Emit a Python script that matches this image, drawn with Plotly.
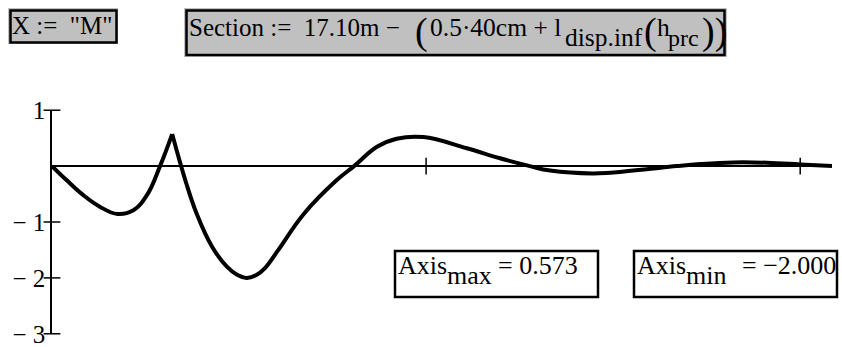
import plotly.graph_objects as go

# ---------------- data ----------------
seg1_x = [0.0, 0.31, 0.67, 1.03, 1.40, 1.74, 2.03, 2.31, 2.57]
seg1_y = [0.0, -0.25, -0.52, -0.73, -0.857, -0.79, -0.52, 0.0, 0.573]

seg2_x = [2.57, 2.85, 3.09, 3.42, 3.74, 3.95, 4.16, 4.37, 4.56, 4.84, 5.38, 6.09, 6.46,
          6.95, 7.37, 7.94, 8.87, 9.58, 10.22, 10.65, 11.58, 12.43, 13.36,
          13.86, 14.57, 15.29, 16.0, 16.68]
seg2_y = [0.573, -0.25, -0.845, -1.44, -1.80, -1.94, -2.0, -1.95, -1.82, -1.50, -0.86, -0.25, 0.0,
          0.345, 0.49, 0.52, 0.32, 0.14, 0.0, -0.08, -0.13, -0.08, 0.0,
          0.036, 0.066, 0.06, 0.03, 0.0]

x_range = [0.0, 16.68]
y_range = [-3.0, 1.0]
x_ticks = [8, 16]
y_ticks = [1, -1, -2, -3]
y_tick_labels = ["1", "\u2212 1", "\u2212 2", "\u2212 3"]

axis_max = 0.573
axis_min = -2.000

# ---------------- layout geometry (page pixels) ----------------
W, H = 842, 347
L, R, T, B = 52, 832, 110, 334
FONT = "Liberation Serif"
EPS = 0.004        # tiny range padding so the end tick labels are kept


def px(x):
    return (x - L) / (R - L)


def py(y):
    return (B - y) / (B - T)


fig = go.Figure()

line_style = dict(color="black", width=4, shape="spline", smoothing=1.15)
fig.add_trace(go.Scatter(x=seg1_x, y=seg1_y, mode="lines", line=line_style,
                         hoverinfo="skip", showlegend=False))
fig.add_trace(go.Scatter(x=seg2_x, y=seg2_y, mode="lines", line=line_style,
                         hoverinfo="skip", showlegend=False))

# tick marks crossing the axes
fig.add_trace(go.Scatter(x=[0] * len(y_ticks), y=y_ticks, mode="markers",
                         marker=dict(symbol="line-ew", size=12,
                                     line=dict(color="black", width=1.5)),
                         cliponaxis=False, hoverinfo="skip", showlegend=False))
fig.add_trace(go.Scatter(x=x_ticks, y=[0] * len(x_ticks), mode="markers",
                         marker=dict(symbol="line-ns", size=12,
                                     line=dict(color="black", width=1.5)),
                         cliponaxis=False, hoverinfo="skip", showlegend=False))

shapes = []


def box(x0, y0, x1, y1, fill=None, lw=2.5):
    if fill:
        shapes.append(dict(type="rect", xref="paper", yref="paper",
                           x0=px(x0), x1=px(x1), y0=py(y1), y1=py(y0),
                           fillcolor=fill, line=dict(width=0), layer="below"))
    else:
        shapes.append(dict(type="rect", xref="paper", yref="paper",
                           x0=px(x0), x1=px(x1), y0=py(y1), y1=py(y0),
                           line=dict(color="black", width=lw), layer="above"))


# gray backgrounds and borders of the definitions
box(8, 8, 118, 44, fill="#c0c0c0")
box(10.5, 10.5, 116.5, 42.5)
box(184, 8, 727, 57, fill="#c0c0c0")
box(186.5, 10.5, 724.5, 55)
# result boxes
box(395, 251, 598, 297)
box(634, 251, 837, 297)

annotations = []


def txt(x, base, s, size=26, anchor="left"):
    annotations.append(dict(xref="paper", yref="paper", x=px(x),
                            y=py(base - 0.33 * size), text=s, showarrow=False,
                            xanchor=anchor, yanchor="middle", borderpad=0,
                            borderwidth=0,
                            font=dict(family=FONT, size=size, color="black")))


NB = "\u00a0"
txt(12, 34, "X" + NB + ":=" + NB + NB + "\"M\"", size=25)
txt(189, 36, "Section" + NB + ":=" + NB + NB + "17.10m" + NB + "\u2212" + NB, size=25)
txt(415, 44, "(", size=38)
txt(430, 36, "0.5\u00b740cm" + NB + "+" + NB + "l", size=25.5)
txt(565, 46, "disp.inf", size=25.5)
txt(644, 44, "(", size=38)
txt(657, 36, "h", size=25.5)
txt(668, 46, "prc", size=24)
txt(727, 44, "))", size=38, anchor="right")

txt(398, 274, "Axis")
txt(447, 284, "max")
txt(578, 274, "=" + NB + "{:.3f}".format(axis_max), anchor="right")
txt(637, 274, "Axis")
txt(686, 284, "min")
txt(836, 274, "=" + NB + "\u2212" + "{:.3f}".format(abs(axis_min)), anchor="right")

fig.update_layout(
    width=W, height=H,
    margin=dict(l=L, r=W - R, t=T, b=H - B, pad=0, autoexpand=False),
    paper_bgcolor="white", plot_bgcolor="white",
    shapes=shapes, annotations=annotations,
    xaxis=dict(range=x_range, visible=False, fixedrange=True, automargin=False),
    yaxis=dict(range=[y_range[0] - EPS, y_range[1] + EPS], showline=True,
               linecolor="black", linewidth=1.5, automargin=False,
               showgrid=False, zeroline=True, zerolinecolor="black",
               zerolinewidth=1.5, ticks="", tickvals=y_ticks, ticktext=y_tick_labels,
               ticklabeloverflow="allow",
               tickfont=dict(family=FONT, size=25, color="black"), fixedrange=True),
    showlegend=False,
)

fig.write_html(
    "out.html",
    config={"displayModeBar": False},
    post_script="document.body.style.margin='0';document.body.style.overflow='hidden';",
)
